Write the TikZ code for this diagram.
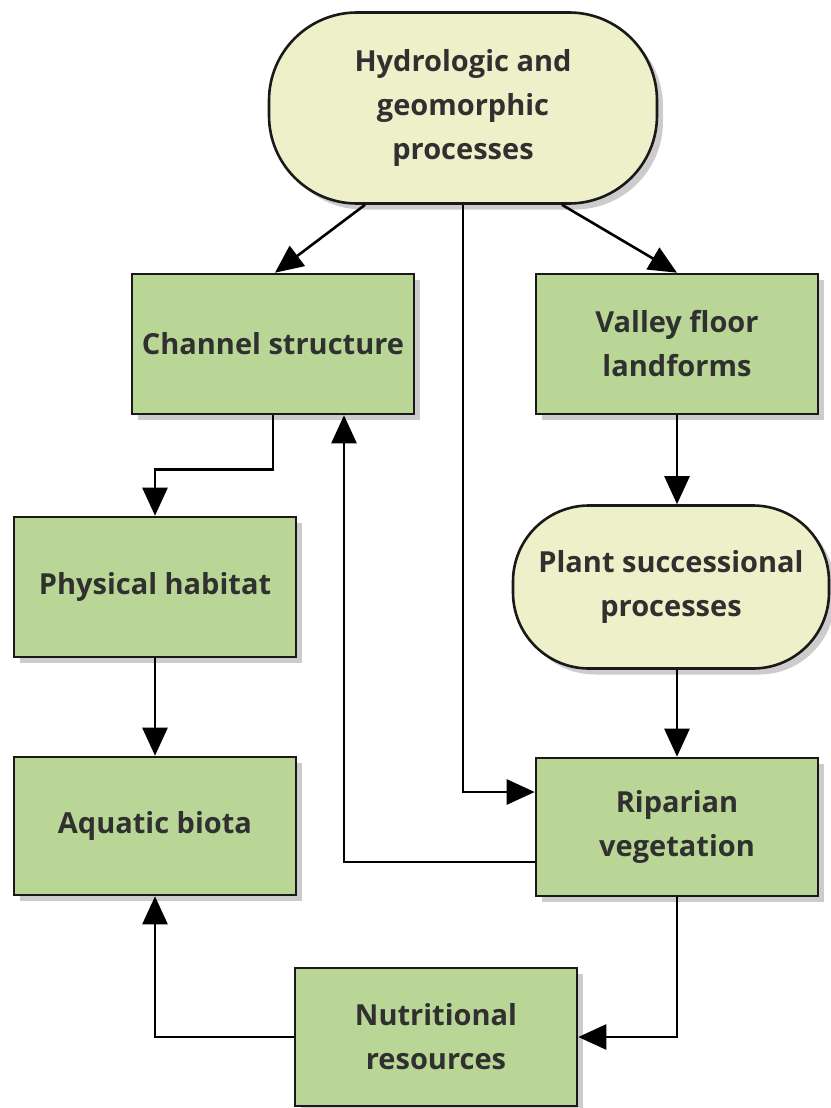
\documentclass[tikz,border=0pt]{standalone}
\usepackage{fontspec}
\setmainfont{Open Sans}
\usetikzlibrary{arrows.meta,shadows}

\definecolor{boxgreen}{RGB}{186,214,150}
\definecolor{procyellow}{RGB}{237,240,200}
\definecolor{textgray}{RGB}{48,48,48}

\tikzset{
  box/.style={draw=black!90, line width=2.6pt, fill=boxgreen,
    minimum width=282pt, minimum height=140pt, align=center,
    text=textgray, font=\bfseries\fontsize{29}{44}\selectfont,
    drop shadow={shadow xshift=6pt, shadow yshift=-6pt, opacity=0.4}},
  proc/.style={box, fill=procyellow},
  flow/.style={line width=2.6pt, -{Triangle[length=28pt,width=25pt]}}
}

\begin{document}
\begin{tikzpicture}[x=1pt,y=-1pt]
	\useasboundingbox (0,0) rectangle (830,1108);
	
	\node[proc, minimum width=388pt, minimum height=191pt, rounded corners=88pt] (hydro) at (463,108) {Hydrologic and\\geomorphic\\processes};
	
	\node[box] (chan) at (273,344) {Channel structure};
	\node[box] (valley) at (677,344) {Valley floor\\landforms};
	
	\node[box] (phys) at (155,587) {Physical habitat};
	\node[proc, minimum width=316pt, minimum height=163pt, rounded corners=76pt] (plant) at (671,587) {Plant successional\\processes};
	
	\node[box, minimum height=138pt] (aqua) at (155,826) {Aquatic biota};
	\node[box, minimum height=138pt] (ripar) at (677,827) {Riparian\\vegetation};
	
	\node[box, minimum height=138pt] (nutr) at (436,1037) {Nutritional\\resources};
	
	\draw[flow] ([xshift=-98pt]hydro.south) -- ([xshift=2pt]chan.north);
	\draw[flow] ([xshift=99pt]hydro.south) -- (valley.north);
	\draw[flow] (hydro.south) |- ([yshift=35pt]ripar.west);
	
	\draw[flow] (chan.south) -- ++(0,54) -| (phys.north);
	\draw[flow] ([yshift=-35pt]ripar.west) -| ([xshift=71pt]chan.south);
	
	\draw[flow] (valley.south) -- (valley.south |- plant.north);
	\draw[flow] (ripar.north |- plant.south) -- (ripar.north);
	
	\draw[flow] (phys.south) -- (aqua.north);
	\draw[flow] (ripar.south) |- (nutr.east);
	\draw[flow] (nutr.west) -| (aqua.south);
\end{tikzpicture}
\end{document}
